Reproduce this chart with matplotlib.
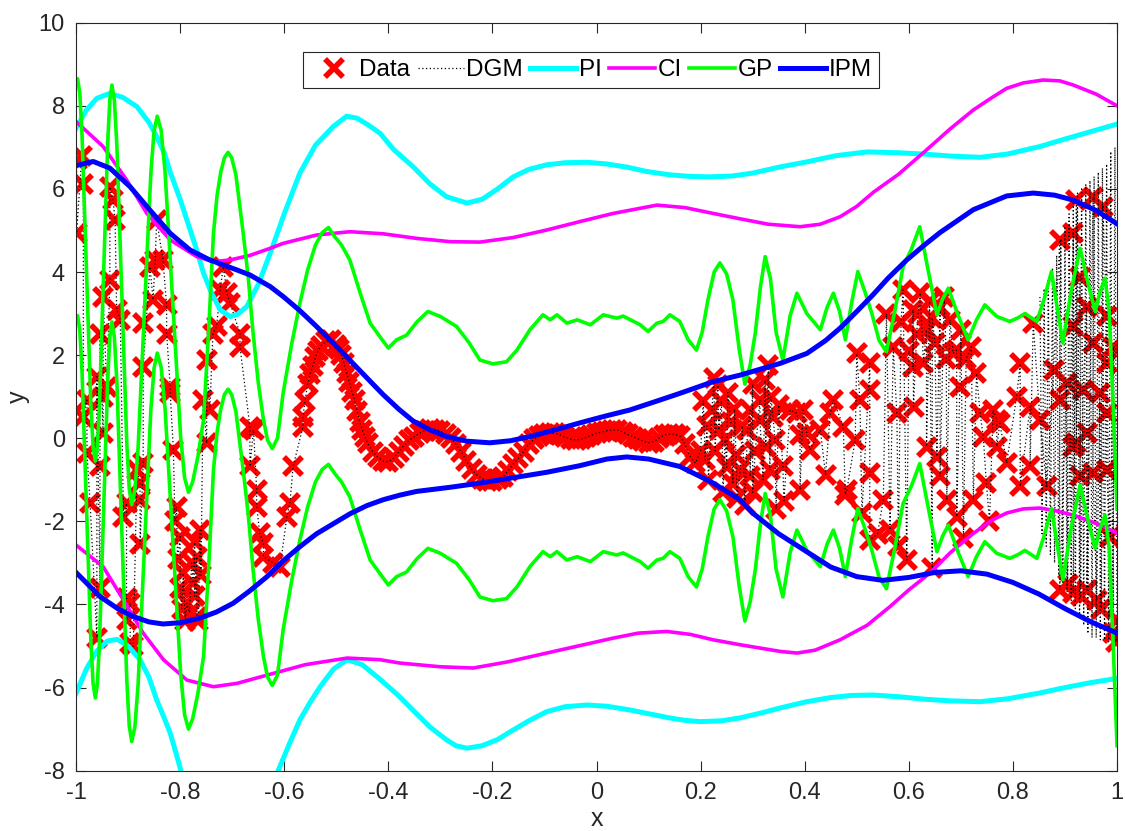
import numpy as np
import matplotlib
matplotlib.use('Agg')
import matplotlib.pyplot as plt

plt.rcParams['font.family'] = ['Liberation Sans', 'DejaVu Sans']

# observacoes (x, y) - regiao esquerda, faixa central e regiao direita
dados_esq = [(-0.999, 6.7), (-0.989, 6.78), (-0.986, 6.13), (-0.999, 4.93), (-0.979, 0.92), (-0.986, 0.52),
             (-0.979, -0.36), (-0.973, -1.56), (-0.960, -4.8), (-0.954, -3.6), (-0.954, -0.68), (-0.948, 0.12),
             (-0.948, 1.0), (-0.96, 1.48), (-0.941, 1.24), (-0.954, 2.52), (-0.948, 3.41), (-0.935, 3.81),
             (-0.935, 6.05), (-0.929, 5.73), (-0.925, 5.25), (-0.922, 3.09), (-0.915, 2.85), (-0.909, -1.89),
             (-0.903, -1.56), (-0.903, -3.85), (-0.903, -4.37), (-0.896, -3.97), (-0.896, -4.93), (-0.89, -5.01),
             (-0.883, -0.76), (-0.877, -1.08), (-0.877, -1.48), (-0.877, -2.55), (-0.871, -0.6), (-0.871, 2.77),
             (-0.871, 1.72), (-0.858, 4.13), (-0.852, 3.33), (-0.848, 4.29), (-0.845, 5.25), (-0.833, 4.29),
             (-0.826, 3.2), (-0.826, 2.52), (-0.819, 1.24), (-0.819, 1.08), (-0.813, -0.28), (-0.81, -2.0),
             (-0.807, -1.65), (-0.805, -2.9), (-0.8, -2.37), (-0.8, -3.6), (-0.797, -4.1), (-0.794, -3.25),
             (-0.79, -4.4), (-0.787, -3.97), (-0.782, -4.2), (-0.778, -3.0), (-0.775, -3.49), (-0.772, -2.5),
             (-0.772, -3.8), (-0.768, -2.85), (-0.768, -4.29), (-0.765, -4.4), (-0.762, -2.21), (-0.76, -3.3),
             (-0.756, 0.92), (-0.749, -0.12), (-0.749, 1.88), (-0.743, 0.68), (-0.737, 2.52), (-0.73, 2.69),
             (-0.723, 3.57), (-0.717, 4.13), (-0.71, 3.49), (-0.704, 3.25), (-0.685, 2.52), (-0.685, 2.2),
             (-0.666, 0.28), (-0.659, 0.2), (-0.666, -0.68), (-0.653, -1.24), (-0.653, -1.65), (-0.647, -2.29),
             (-0.64, -2.53), (-0.64, -2.85), (-0.621, -3.0), (-0.608, -3.1), (-0.595, -1.89), (-0.589, -1.56),
             (-0.583, -0.68), (-0.564, 0.28), (-0.564, 0.52)]

dados_meio = [(-0.56, 0.9), (-0.555, 1.3), (-0.55, 1.55), (-0.545, 1.75), (-0.54, 1.95), (-0.535, 2.1),
              (-0.53, 2.22), (-0.52, 2.33), (-0.51, 2.36), (-0.50, 2.25), (-0.495, 2.15), (-0.49, 2.0),
              (-0.485, 1.8), (-0.48, 1.56), (-0.475, 1.35), (-0.47, 1.12), (-0.465, 0.92), (-0.46, 0.65),
              (-0.455, 0.4), (-0.45, 0.2), (-0.445, 0.03), (-0.44, -0.12), (-0.43, -0.32), (-0.42, -0.46),
              (-0.41, -0.55), (-0.40, -0.57), (-0.39, -0.48), (-0.38, -0.32), (-0.37, -0.18), (-0.36, -0.05),
              (-0.35, 0.04), (-0.34, 0.12), (-0.33, 0.18), (-0.32, 0.22), (-0.31, 0.21), (-0.30, 0.17),
              (-0.29, 0.1), (-0.28, 0.0), (-0.27, -0.15), (-0.26, -0.33), (-0.25, -0.55), (-0.24, -0.75),
              (-0.23, -0.88), (-0.22, -0.97), (-0.21, -1.02), (-0.20, -1.02), (-0.19, -0.98), (-0.18, -0.93),
              (-0.17, -0.78), (-0.16, -0.62), (-0.15, -0.48), (-0.14, -0.32), (-0.13, -0.15), (-0.12, -0.03),
              (-0.11, 0.05), (-0.10, 0.1), (-0.09, 0.12), (-0.08, 0.12), (-0.07, 0.08), (-0.06, 0.02),
              (-0.05, -0.02), (-0.04, -0.04), (-0.03, -0.03), (-0.02, 0.02), (-0.01, 0.07), (0.0, 0.12),
              (0.01, 0.15), (0.02, 0.18), (0.03, 0.2), (0.04, 0.2), (0.05, 0.15), (0.06, 0.09),
              (0.07, 0.04), (0.08, -0.02), (0.09, -0.07), (0.10, -0.11), (0.11, -0.08), (0.12, 0.0),
              (0.13, 0.08), (0.14, 0.1), (0.15, 0.1), (0.16, 0.05), (0.17, -0.15), (0.18, -0.44)]

dados_dir = [(0.19, -0.6), (0.2, -0.3), (0.205, 0.9), (0.209, -0.52), (0.212, 0.3), (0.215, -1.0),
             (0.222, 0.68), (0.225, 1.45), (0.228, -0.3), (0.233, 1.28), (0.235, 0.2), (0.24, 0.9),
             (0.243, -1.3), (0.247, -0.04), (0.25, -0.7), (0.252, 1.1), (0.258, 0.4), (0.262, -1.1),
             (0.265, 0.7), (0.268, -0.4), (0.27, -1.45), (0.276, -0.77), (0.28, 0.3), (0.285, -1.6),
             (0.29, 0.2), (0.295, 0.68), (0.295, -0.92), (0.3, 1.3), (0.3, -1.3), (0.305, -0.3),
             (0.314, 0.92), (0.314, 0.44), (0.32, -1.0), (0.324, 1.4), (0.325, -0.2), (0.33, 1.76),
             (0.333, -0.77), (0.335, 1.0), (0.339, 0.52), (0.343, -0.04), (0.345, -1.7), (0.35, 0.8),
             (0.358, -0.68), (0.36, -1.5), (0.372, 0.68), (0.385, 0.6), (0.391, 0.08), (0.391, -1.24),
             (0.397, 0.68), (0.404, 0.12), (0.41, -0.28), (0.43, 0.2), (0.44, -0.88), (0.449, 0.6),
             (0.455, 0.92), (0.474, 0.28), (0.478, -1.36), (0.481, -1.24), (0.497, -0.04), (0.5, 2.04),
             (0.506, 0.92), (0.51, -1.8), (0.525, 1.8), (0.525, 1.16), (0.525, -0.84), (0.525, -2.45),
             (0.54, -2.3), (0.551, -1.48), (0.557, 3.0), (0.564, -2.21), (0.57, 2.2), (0.577, 0.6),
             (0.58, -2.6), (0.585, 2.8), (0.589, 3.57), (0.596, -2.93), (0.6, 2.1), (0.608, 1.72),
             (0.608, 3.09), (0.609, 0.76), (0.615, 2.52), (0.618, 3.0), (0.622, 3.5), (0.628, 1.8),
             (0.634, 2.61), (0.634, -0.2), (0.64, 3.3), (0.645, -3.13), (0.645, 2.9), (0.65, 2.3),
             (0.654, -0.44), (0.66, 3.17), (0.66, -0.92), (0.668, 3.4), (0.672, 1.9), (0.673, -1.48),
             (0.679, 2.85), (0.685, 2.04), (0.692, 2.12), (0.692, -1.89), (0.698, 1.24), (0.70, 2.6),
             (0.705, -2.4), (0.71, 1.9), (0.72, 2.2), (0.724, -1.48), (0.73, 1.56), (0.737, 0.6),
             (0.743, 0.04), (0.749, -1.08), (0.755, -2.0), (0.762, 0.68), (0.769, 0.44), (0.769, -0.2),
             (0.775, 0.36), (0.788, -0.6), (0.807, 1.0), (0.814, 1.8), (0.814, -1.16), (0.833, 0.76),
             (0.833, -0.68), (0.839, 2.77), (0.852, 0.44), (0.865, -1.16), (0.878, 1.64), (0.89, 4.77),
             (0.89, 0.92), (0.89, -3.65), (0.903, 1.32), (0.905, -3.5), (0.916, 4.93), (0.916, 2.69),
             (0.916, -0.2), (0.916, -3.73), (0.922, 5.73), (0.922, -0.12), (0.929, 3.89), (0.929, -0.92),
             (0.93, -3.8), (0.935, 1.16), (0.942, 3.17), (0.942, 0.12), (0.942, -3.65), (0.954, 5.81),
             (0.954, 2.29), (0.954, -0.84), (0.961, -3.89), (0.967, 1.08), (0.97, -4.1), (0.973, 5.57),
             (0.98, 2.93), (0.98, 1.8), (0.98, 0.6), (0.98, -0.76), (0.987, -2.37), (0.993, 2.2),
             (0.993, -4.69), (0.998, -4.9), (1.0, -4.37)]

# trecho final do mecanismo gerador (oscila muito rapido perto de x = 1)
dgm_cauda_x = [0.852, 0.856, 0.860, 0.864, 0.868, 0.872, 0.876, 0.880, 0.884, 0.888, 0.892, 0.896, 0.900,
               0.904, 0.908, 0.912, 0.916, 0.920, 0.924, 0.928, 0.932, 0.936, 0.940, 0.944, 0.948, 0.952,
               0.956, 0.960, 0.964, 0.968, 0.972, 0.976, 0.980, 0.984, 0.988, 0.992, 0.996, 1.000]
dgm_cauda_y = [3.4, -2.3, 3.6, -2.6, 3.8, -2.8, 4.1, -3.0, 4.4, -3.3, 4.8, -3.5, 5.1,
               -3.7, 5.4, -3.9, 5.7, -4.1, 5.9, -4.3, 6.0, -4.5, 6.1, -4.7, 6.2, -4.8,
               6.3, -4.8, 6.4, -4.85, 6.5, -4.85, 6.6, -4.9, 6.9, -4.9, 7.0, -4.9]

# intervalo de predicao
pi_sup = [(-1, 7.46), (-0.98, 7.9), (-0.96, 8.18), (-0.935, 8.3), (-0.91, 8.2), (-0.883, 7.98), (-0.86, 7.6),
          (-0.845, 7.26), (-0.83, 6.85), (-0.819, 6.4), (-0.80, 5.75), (-0.787, 5.25), (-0.77, 4.6),
          (-0.755, 3.97), (-0.74, 3.5), (-0.723, 3.09), (-0.704, 2.93), (-0.69, 2.98), (-0.672, 3.17),
          (-0.65, 3.7), (-0.627, 4.45), (-0.60, 5.4), (-0.57, 6.38), (-0.54, 7.05), (-0.506, 7.5),
          (-0.48, 7.75), (-0.46, 7.7), (-0.44, 7.55), (-0.416, 7.34), (-0.39, 6.95), (-0.353, 6.54),
          (-0.32, 6.12), (-0.288, 5.81), (-0.249, 5.66), (-0.22, 5.75), (-0.19, 6.0), (-0.16, 6.29),
          (-0.13, 6.47), (-0.096, 6.58), (-0.06, 6.63), (-0.018, 6.64), (0.02, 6.6), (0.06, 6.52),
          (0.096, 6.42), (0.14, 6.34), (0.18, 6.3), (0.218, 6.29), (0.26, 6.31), (0.30, 6.38), (0.353, 6.53),
          (0.404, 6.65), (0.46, 6.8), (0.52, 6.89), (0.58, 6.87), (0.627, 6.84), (0.68, 6.79), (0.737, 6.76),
          (0.79, 6.84), (0.852, 7.02), (0.90, 7.2), (0.95, 7.38), (1.0, 7.56)]
pi_inf = [(-1, -6.14), (-0.98, -5.55), (-0.96, -5.12), (-0.94, -4.88), (-0.921, -4.84), (-0.90, -5.0),
          (-0.877, -5.33), (-0.86, -5.75), (-0.845, -6.3), (-0.83, -6.75), (-0.819, -7.1), (-0.804, -7.75),
          (-0.79, -8.4), (-0.75, -9.5), (-0.70, -10.0), (-0.65, -9.5), (-0.611, -7.98), (-0.59, -7.35),
          (-0.57, -6.78), (-0.55, -6.35), (-0.531, -5.98), (-0.505, -5.55), (-0.479, -5.33), (-0.45, -5.45),
          (-0.416, -5.8), (-0.38, -6.2), (-0.353, -6.54), (-0.32, -6.95), (-0.288, -7.26), (-0.27, -7.4),
          (-0.249, -7.46), (-0.22, -7.4), (-0.19, -7.25), (-0.16, -7.02), (-0.13, -6.8), (-0.096, -6.58),
          (-0.06, -6.46), (-0.018, -6.42), (0.02, -6.45), (0.06, -6.53), (0.096, -6.62), (0.14, -6.73),
          (0.17, -6.79), (0.199, -6.82), (0.24, -6.8), (0.276, -6.73), (0.32, -6.6), (0.353, -6.49),
          (0.404, -6.34), (0.45, -6.24), (0.49, -6.19), (0.531, -6.18), (0.58, -6.22), (0.63, -6.28),
          (0.68, -6.32), (0.737, -6.34), (0.79, -6.27), (0.852, -6.13), (0.90, -6.0), (0.95, -5.88),
          (1.0, -5.78)]

# intervalo de confianca
ci_sup = [(-1, 7.62), (-0.948, 7.02), (-0.903, 6.22), (-0.864, 5.41), (-0.819, 4.77), (-0.768, 4.37),
          (-0.736, 4.25), (-0.704, 4.29), (-0.666, 4.4), (-0.627, 4.57), (-0.602, 4.69), (-0.538, 4.89),
          (-0.474, 4.97), (-0.41, 4.92), (-0.346, 4.81), (-0.281, 4.73), (-0.224, 4.72), (-0.16, 4.83),
          (-0.096, 5.01), (-0.03, 5.22), (0.032, 5.41), (0.116, 5.61), (0.17, 5.55), (0.224, 5.41),
          (0.276, 5.28), (0.33, 5.15), (0.391, 5.09), (0.43, 5.15), (0.468, 5.33), (0.50, 5.58),
          (0.532, 5.92), (0.58, 6.35), (0.627, 6.86), (0.68, 7.45), (0.724, 7.9), (0.76, 8.2),
          (0.788, 8.42), (0.82, 8.55), (0.858, 8.62), (0.89, 8.6), (0.916, 8.5), (0.96, 8.28), (1.0, 8.0)]
ci_inf = [(-1, -2.57), (-0.948, -3.09), (-0.909, -3.89), (-0.871, -4.69), (-0.832, -5.33), (-0.787, -5.82),
          (-0.736, -5.98), (-0.691, -5.9), (-0.627, -5.68), (-0.56, -5.45), (-0.479, -5.29), (-0.416, -5.33),
          (-0.378, -5.41), (-0.3, -5.5), (-0.237, -5.53), (-0.17, -5.38), (-0.096, -5.17), (0.032, -4.81),
          (0.08, -4.69), (0.135, -4.65), (0.18, -4.72), (0.224, -4.85), (0.276, -4.97), (0.353, -5.13),
          (0.385, -5.17), (0.42, -5.1), (0.468, -4.85), (0.52, -4.5), (0.564, -4.05), (0.60, -3.65),
          (0.641, -3.24), (0.68, -2.75), (0.724, -2.29), (0.76, -1.97), (0.788, -1.8), (0.82, -1.7),
          (0.852, -1.68), (0.88, -1.74), (0.916, -1.85), (0.96, -2.05), (1.0, -2.28)]

# media do processo gaussiano e meia largura da banda
gp_media = [(-1.0, 5.7), (-0.997, 5.8), (-0.9928, 5.45), (-0.9885, 4.45), (-0.980, 1.2), (-0.9715, -2.05),
            (-0.9673, -3.05), (-0.963, -3.4), (-0.959, -3.06), (-0.955, -2.07), (-0.947, 1.13), (-0.939, 4.32),
            (-0.935, 5.31), (-0.931, 5.65), (-0.9263, 5.27), (-0.9215, 4.17), (-0.912, 0.6), (-0.9025, -2.97),
            (-0.8978, -4.07), (-0.893, -4.45), (-0.8869, -4.09), (-0.8808, -3.08), (-0.8685, 0.23),
            (-0.8563, 3.53), (-0.8501, 4.54), (-0.844, 4.9), (-0.8365, 4.56), (-0.829, 3.57), (-0.814, 0.38),
            (-0.799, -2.82), (-0.7915, -3.8), (-0.784, -4.15), (-0.776, -3.9), (-0.766, -3.3), (-0.755, -2.4),
            (-0.745, -0.2), (-0.736, 2.08), (-0.729, 3.0), (-0.722, 3.55), (-0.715, 3.9), (-0.708, 4.03),
            (-0.701, 3.9), (-0.693, 3.5), (-0.679, 2.1), (-0.669, 1.0), (-0.66, -0.3), (-0.65, -1.5),
            (-0.64, -2.4), (-0.632, -2.9), (-0.623, -3.1), (-0.613, -2.85), (-0.602, -1.75), (-0.586, -0.6),
            (-0.57, 0.4), (-0.555, 1.2), (-0.54, 1.8), (-0.527, 2.1), (-0.515, 2.22), (-0.503, 2.0),
            (-0.49, 1.8), (-0.474, 1.44), (-0.454, 0.64), (-0.435, -0.08), (-0.416, -0.41), (-0.4, -0.68),
            (-0.384, -0.48), (-0.365, -0.37), (-0.345, -0.05), (-0.324, 0.2), (-0.3, 0.08), (-0.269, -0.16),
            (-0.245, -0.55), (-0.224, -0.97), (-0.199, -1.06), (-0.173, -1.01), (-0.153, -0.73),
            (-0.128, -0.24), (-0.103, 0.12), (-0.089, 0.0), (-0.076, 0.12), (-0.057, -0.08), (-0.037, 0.0),
            (-0.012, -0.12), (0.013, 0.12), (0.039, 0.04), (0.051, 0.09), (0.084, -0.12), (0.099, -0.28),
            (0.116, -0.08), (0.128, -0.04), (0.141, 0.12), (0.16, -0.04), (0.176, -0.48), (0.192, -0.73),
            (0.203, -0.3), (0.214, 0.48), (0.226, 1.15), (0.237, 1.37), (0.25, 1.1), (0.262, 0.48),
            (0.274, -0.7), (0.285, -1.55), (0.295, -1.1), (0.305, -0.32), (0.315, 0.8), (0.324, 1.52),
            (0.334, 1.0), (0.345, -0.3), (0.358, -0.97), (0.372, 0.1), (0.385, 0.64), (0.404, 0.15),
            (0.43, -0.24), (0.443, 0.3), (0.455, 0.64), (0.467, 0.2), (0.478, -0.48), (0.49, 0.4),
            (0.502, 1.16), (0.515, 0.7), (0.529, 0.15), (0.543, -0.5), (0.557, -0.77), (0.573, 0.2),
            (0.589, 1.28), (0.605, 1.7), (0.621, 2.24), (0.637, 1.2), (0.654, 0.12), (0.665, 0.5),
            (0.676, 0.76), (0.695, 0.1), (0.714, -0.48), (0.73, 0.0), (0.746, 0.36), (0.769, 0.08),
            (0.794, -0.04), (0.81, 0.05), (0.823, 0.15), (0.846, -0.04), (0.86, 0.5), (0.874, 1.16),
            (0.885, 0.3), (0.896, -0.56), (0.912, 0.7), (0.929, 1.72), (0.944, 0.9), (0.958, 0.2),
            (0.968, 0.7), (0.977, 1.0), (0.985, 0.2), (0.992, -1.9), (1.0, -4.55)]
gp_banda = 2.85

# modelo IPM (limites superior e inferior)
ipm_sup = [(-1, 6.56), (-0.967, 6.66), (-0.935, 6.5), (-0.896, 6.05), (-0.858, 5.49), (-0.819, 4.93),
           (-0.781, 4.53), (-0.743, 4.29), (-0.691, 4.05), (-0.666, 3.93), (-0.627, 3.65), (-0.602, 3.41),
           (-0.57, 3.07), (-0.538, 2.69), (-0.506, 2.29), (-0.474, 1.88), (-0.441, 1.45), (-0.41, 1.05),
           (-0.38, 0.7), (-0.353, 0.42), (-0.32, 0.2), (-0.288, 0.04), (-0.25, -0.07), (-0.205, -0.11),
           (-0.165, -0.06), (-0.128, 0.04), (-0.08, 0.2), (-0.032, 0.37), (0.016, 0.53), (0.064, 0.68),
           (0.122, 0.92), (0.16, 1.08), (0.224, 1.36), (0.276, 1.52), (0.3525, 1.8), (0.404, 2.04),
           (0.44, 2.35), (0.468, 2.65), (0.50, 3.05), (0.531, 3.45), (0.56, 3.85), (0.596, 4.29),
           (0.63, 4.65), (0.66, 4.95), (0.724, 5.5), (0.788, 5.83), (0.839, 5.9), (0.88, 5.85),
           (0.916, 5.73), (0.96, 5.48), (1.0, 5.16)]
ipm_inf = [(-1, -3.23), (-0.954, -3.81), (-0.92, -4.1), (-0.89, -4.29), (-0.86, -4.42), (-0.833, -4.47),
           (-0.80, -4.44), (-0.762, -4.33), (-0.73, -4.18), (-0.698, -3.97), (-0.666, -3.67), (-0.633, -3.33),
           (-0.602, -2.95), (-0.57, -2.61), (-0.538, -2.3), (-0.506, -2.06), (-0.474, -1.82), (-0.441, -1.62),
           (-0.41, -1.48), (-0.378, -1.37), (-0.346, -1.28), (-0.281, -1.18), (-0.224, -1.08), (-0.16, -0.95),
           (-0.096, -0.82), (-0.032, -0.66), (0.02, -0.5), (0.058, -0.45), (0.10, -0.5), (0.16, -0.68),
           (0.22, -1.05), (0.2757, -1.48), (0.30, -1.8), (0.35, -2.3), (0.40, -2.7), (0.45, -3.1),
           (0.50, -3.33), (0.55, -3.42), (0.60, -3.35), (0.65, -3.23), (0.70, -3.19), (0.75, -3.27),
           (0.80, -3.47), (0.85, -3.75), (0.90, -4.1), (0.95, -4.42), (1.0, -4.69)]

rotulos_x = ['-1', '-0.8', '-0.6', '-0.4', '-0.2', '0', '0.2', '0.4', '0.6', '0.8', '1']
rotulos_y = ['-8', '-6', '-4', '-2', '0', '2', '4', '6', '8', '10']


def separar(pontos):
    xs, ys = zip(*pontos)
    return np.array(xs), np.array(ys)


cinza = '#262626'
fig = plt.figure(figsize=(11.25, 8.31), dpi=100)
ax = fig.add_axes([0.0676, 0.0726, 0.9253, 0.9001])

# dados e mecanismo gerador
dx, dy = separar(dados_esq + dados_meio + dados_dir)
ax.plot(dx, dy, linestyle='none', marker='x', color='red', ms=13, mew=4, label='Data')
ordem = np.argsort(dx, kind='stable')
ax.plot(dx[ordem], dy[ordem], color='black', lw=0.9, ls=(0, (1, 2)), label='DGM')
ax.plot(dgm_cauda_x, dgm_cauda_y, color='black', lw=0.9, ls=(0, (1, 2)))

# bandas
x, y = separar(pi_sup)
ax.plot(x, y, color='#00ffff', lw=3.6, label='PI')
x, y = separar(pi_inf)
ax.plot(x, y, color='#00ffff', lw=3.6)

x, y = separar(ci_sup)
ax.plot(x, y, color='#ff00ff', lw=2.6, label='CI')
x, y = separar(ci_inf)
ax.plot(x, y, color='#ff00ff', lw=2.6)

x, y = separar(gp_media)
ax.plot(x, y + gp_banda, color='#00ff00', lw=2.6, label='GP')
ax.plot(x, y - gp_banda, color='#00ff00', lw=2.6)

x, y = separar(ipm_sup)
ax.plot(x, y, color='#0000ff', lw=3.6, label='IPM')
x, y = separar(ipm_inf)
ax.plot(x, y, color='#0000ff', lw=3.6)

# eixos no estilo matlab
ax.set_xlim(-1, 1)
ax.set_ylim(-8, 10)
ax.set_xticks(np.linspace(-1, 1, 11))
ax.set_xticklabels(rotulos_x)
ax.set_yticks(np.arange(-8, 11, 2))
ax.set_yticklabels(rotulos_y)
ax.tick_params(direction='in', length=7, width=0.8, top=True, right=True,
               labelsize=17, colors=cinza, pad=8)
for s in ax.spines.values():
    s.set_color(cinza)
    s.set_linewidth(0.8)
ax.set_xlabel('x', fontsize=18, color=cinza, labelpad=2)
ax.set_ylabel('y', fontsize=18, color=cinza, labelpad=6)

leg = ax.legend(loc='upper center', bbox_to_anchor=(0.495, 0.961), ncol=6, fontsize=17.5,
                frameon=True, fancybox=False, framealpha=1, edgecolor=cinza,
                handlelength=1.9, handletextpad=0.1, columnspacing=0.3,
                borderpad=0.3, borderaxespad=0, numpoints=1)
leg.get_frame().set_linewidth(0.8)

plt.savefig('out.png', dpi=100)
